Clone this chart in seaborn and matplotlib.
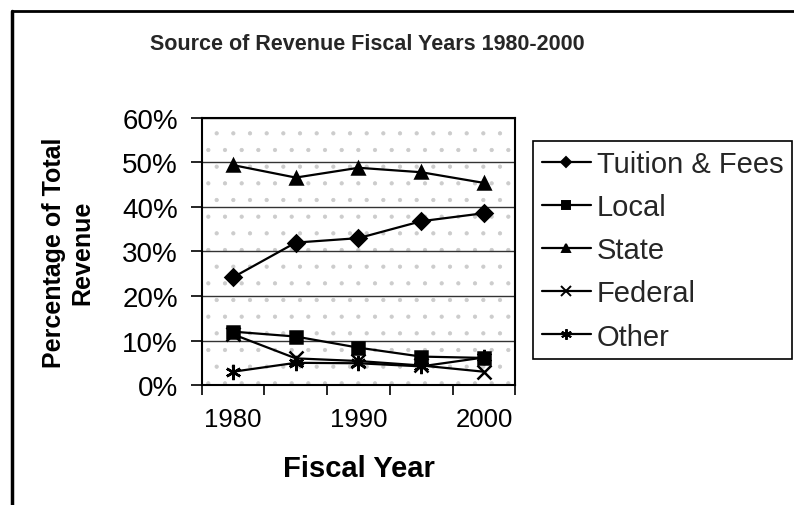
import numpy as np
import pandas as pd
import matplotlib
matplotlib.use("Agg")
import matplotlib.pyplot as plt
from matplotlib.lines import Line2D
from matplotlib.patches import Rectangle
from matplotlib.ticker import FixedLocator, PercentFormatter
import seaborn as sns

# data (percent of total revenue)
years = [1980, 1985, 1990, 1995, 2000]
tuition_fees = [24.2, 32.0, 33.0, 36.8, 38.6]
local = [12.0, 10.9, 8.4, 6.4, 6.1]
state = [49.4, 46.6, 48.8, 47.8, 45.4]
federal = [11.4, 6.0, 5.4, 4.4, 3.0]
other = [3.0, 5.0, 4.9, 4.2, 6.2]

source_names = ["Tuition & Fees", "Local", "State", "Federal", "Other"]
x_tick_labels = ["1980", "1990", "2000"]

sns.set_theme(style="white")
plt.rcParams["font.family"] = ["Liberation Sans", "DejaVu Sans"]
plt.rcParams["hatch.linewidth"] = 0.6

df = pd.DataFrame({
    "year": years * 5,
    "source": [n for n in source_names for _ in years],
    "pct": tuition_fees + local + state + federal + other,
})

asterisk = (6, 2, 0)
markers = {"Tuition & Fees": "D", "Local": "s", "State": "^",
           "Federal": "x", "Other": asterisk}
msizes = {"Tuition & Fees": 8, "Local": 9, "State": 9, "Federal": 10, "Other": 11}

fig = plt.figure(figsize=(7.94, 5.06), dpi=100)
ax = fig.add_axes([0.254, 0.237, 0.395, 0.528])

# stippled plot area
ax.add_patch(Rectangle((0, 0), 1, 1, transform=ax.transAxes, facecolor="white",
                       edgecolor="#cccccc", hatch=".", linewidth=0, zorder=0))

handles = []
for name in source_names:
    sub = df[df["source"] == name]
    sns.lineplot(data=sub, x="year", y="pct", color="black", marker=markers[name],
                 linewidth=1.6, markersize=msizes[name], markeredgecolor="black",
                 markeredgewidth=1.8, ax=ax, zorder=3)
    handles.append(Line2D([], [], color="black", linewidth=1.6, marker=markers[name],
                          markersize=msizes[name] * 0.7, markeredgecolor="black",
                          markeredgewidth=1.4))

ax.set_xlim(1977.5, 2002.5)
ax.set_ylim(0, 60)
ax.yaxis.set_major_locator(FixedLocator([0, 10, 20, 30, 40, 50, 60]))
ax.yaxis.set_major_formatter(PercentFormatter(decimals=0))
ax.set_xticks([1980, 1990, 2000])
ax.set_xticklabels(x_tick_labels)
ax.xaxis.set_minor_locator(FixedLocator([1977.5, 1982.5, 1987.5, 1992.5, 1997.5, 2002.5]))
ax.tick_params(axis="x", which="major", length=0, pad=16, labelsize=18.5, colors="black")
ax.tick_params(axis="x", which="minor", length=7, width=1.2, direction="out",
               bottom=True, color="black")
ax.tick_params(axis="y", length=8, width=1.2, direction="out", left=True,
               labelsize=20, pad=9, colors="black")

ax.grid(axis="y", color="#333333", linewidth=1)
ax.set_axisbelow(True)
for s in ax.spines.values():
    s.set_visible(True)
    s.set_color("black")
    s.set_linewidth(1.5)

ax.set_xlabel("Fiscal Year", fontsize=21, fontweight="bold", labelpad=16, color="black")
ax.set_ylabel("Percentage of Total\nRevenue", fontsize=18, fontweight="bold",
              labelpad=20, color="black", linespacing=1.25)

fig.text(0.463, 0.912, "Source of Revenue Fiscal Years 1980-2000", ha="center",
         va="center", fontsize=15.5, fontweight="bold")

leg = ax.legend(handles, source_names, loc="upper left",
                bbox_to_anchor=(0.671, 0.719), bbox_transform=fig.transFigure,
                fontsize=21, frameon=True, fancybox=False, edgecolor="black",
                framealpha=1, borderpad=0.3, labelspacing=0.52, borderaxespad=0,
                handlelength=1.7, handletextpad=0.2)
leg.get_frame().set_linewidth(1.2)

# outer chart border (left and top edges visible)
fig.add_artist(Line2D([12 / 794, 12 / 794], [0, 1 - 12 / 506],
                      transform=fig.transFigure, color="black", linewidth=2.5))
fig.add_artist(Line2D([12 / 794, 1], [1 - 12 / 506, 1 - 12 / 506],
                      transform=fig.transFigure, color="black", linewidth=2))

fig.savefig("out.png", dpi=100)
